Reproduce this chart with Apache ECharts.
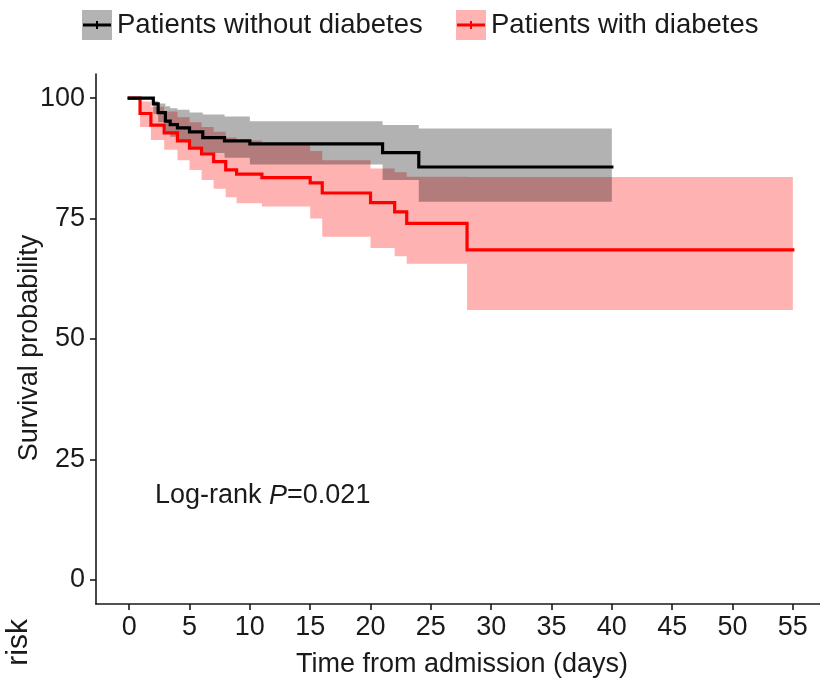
<!DOCTYPE html>
<html>
<head>
<meta charset="utf-8">
<script src="https://cdn.jsdelivr.net/npm/echarts@6/dist/echarts.min.js"></script>
<style>
  html, body { margin: 0; padding: 0; background: #fff; }
  #chart { width: 820px; height: 680px; }
</style>
</head>
<body>
<div id="chart"></div>
<script>
// Kaplan-Meier estimates (%) with 95% confidence band, by diabetes status
const timesNoDiabetes = [0, 2.0, 2.4, 3.0, 3.4, 4.0, 5.0, 6.1, 7.9, 10, 21, 24, 40];
const survNoDiabetes  = [100, 98.8, 97.0, 95.2, 94.5, 93.8, 93.0, 91.8, 91.1, 90.5, 88.7, 85.7, 85.7];
const upperNoDiabetes = [100, 99.4, 98.9, 98.3, 97.9, 97.6, 97.0, 96.6, 96.2, 95.2, 94.4, 93.7, 93.7];
const lowerNoDiabetes = [100, 96.7, 95.0, 92.8, 92.0, 91.0, 89.9, 88.6, 87.6, 86.2, 83.0, 78.5, 78.5];

const timesDiabetes = [0, 0.9, 1.8, 2.9, 4.0, 5.0, 6.0, 7.0, 8.0, 8.9, 11, 15, 16, 20, 22, 23, 28, 55];
const survDiabetes  = [100, 96.8, 94.4, 92.8, 91.1, 89.6, 88.4, 86.8, 85.1, 84.2, 83.5, 82.4, 80.3, 78.3, 76.4, 74.0, 68.5, 68.5];
const upperDiabetes = [100, 99.3, 98.2, 97.2, 96.0, 95.0, 94.0, 93.0, 91.8, 91.2, 90.3, 89.0, 87.1, 85.4, 84.6, 83.7, 83.6, 83.6];
const lowerDiabetes = [100, 94.0, 91.3, 89.3, 87.1, 85.1, 83.0, 81.2, 79.4, 78.2, 77.5, 75.0, 71.2, 68.9, 67.2, 65.6, 56.0, 56.0];

const xTicks = [0, 5, 10, 15, 20, 25, 30, 35, 40, 45, 50, 55];
const yTicks = [0, 25, 50, 75, 100];

const groupNames = ['Patients without diabetes', 'Patients with diabetes'];
const pValueText = '0.021';

const FONT = 'Liberation Sans, Arial, sans-serif';
const INK = '#1a1a1a';

function pairs(xs, ys) {
  return xs.map((x, i) => [x, ys[i]]);
}

// confidence ribbon: one step-shaped polygon (upper edge forward, lower edge back)
function band(name, xs, lo, hi, fill, z) {
  return {
    name: name, type: 'custom', silent: true, z: z, clip: true,
    data: pairs(xs, hi),
    encode: { x: 0, y: 1 },
    renderItem: function (params, api) {
      if (params.dataIndex !== 0) return null;
      const pts = [];
      for (let i = 0; i < xs.length; i++) {
        const next = i < xs.length - 1 ? xs[i + 1] : xs[i];
        pts.push(api.coord([xs[i], hi[i]]));
        pts.push(api.coord([next, hi[i]]));
      }
      for (let i = xs.length - 1; i >= 0; i--) {
        const next = i < xs.length - 1 ? xs[i + 1] : xs[i];
        pts.push(api.coord([next, lo[i]]));
        pts.push(api.coord([xs[i], lo[i]]));
      }
      return { type: 'polygon', shape: { points: pts }, style: { fill: fill, stroke: null } };
    }
  };
}

function curve(name, xs, ys, color, z) {
  return {
    name: name, type: 'line', step: 'end', data: pairs(xs, ys),
    symbol: 'none', z: z, silent: true,
    lineStyle: { color: color, width: 3.2, cap: 'square', join: 'miter' }
  };
}

const axisStyle = { color: INK, width: 1.6 };

const option = {
  animation: false,
  backgroundColor: '#ffffff',
  grid: { left: 96, top: 74, right: 0, bottom: 76, containLabel: false, outerBoundsMode: 'none' },
  xAxis: {
    // axis runs off the right edge of the canvas; 12.07 px per day
    type: 'value', min: -2.75, max: 57.25,
    name: 'Time from admission (days)', nameLocation: 'middle', nameGap: 47,
    nameTextStyle: { fontFamily: FONT, fontSize: 27, color: INK, padding: [0, 0, 0, 8] },
    axisLine: { show: true, onZero: false, lineStyle: axisStyle },
    axisTick: { show: true, length: 6, customValues: xTicks, lineStyle: axisStyle },
    axisLabel: { customValues: xTicks, fontFamily: FONT, fontSize: 27, color: INK, margin: 10 },
    splitLine: { show: false }
  },
  yAxis: {
    type: 'value', min: -5, max: 105,
    axisLine: { show: true, onZero: false, lineStyle: axisStyle },
    axisTick: { show: true, length: 6, customValues: yTicks, lineStyle: axisStyle },
    axisLabel: { customValues: yTicks, fontFamily: FONT, fontSize: 27, color: INK, margin: 11 },
    splitLine: { show: false }
  },
  series: [
    band('diabetes band', timesDiabetes, lowerDiabetes, upperDiabetes, 'rgba(255,0,0,0.3)', 1),
    band('no diabetes band', timesNoDiabetes, lowerNoDiabetes, upperNoDiabetes, 'rgba(0,0,0,0.3)', 2),
    curve(groupNames[1], timesDiabetes, survDiabetes, '#ff0000', 3),
    curve(groupNames[0], timesNoDiabetes, survNoDiabetes, '#000000', 4)
  ],
  graphic: [
    // y-axis title
    {
      type: 'text', x: 30, y: 348, rotation: Math.PI / 2,
      style: { text: 'Survival probability', font: '27px ' + FONT, fill: INK, align: 'center', verticalAlign: 'middle' }
    },
    // legend keys
    { type: 'rect', shape: { x: 82, y: 10, width: 30, height: 30 }, style: { fill: '#b3b3b3' } },
    { type: 'line', shape: { x1: 83, y1: 25, x2: 111, y2: 25 }, style: { stroke: '#000', lineWidth: 3 } },
    { type: 'line', shape: { x1: 97, y1: 21, x2: 97, y2: 29 }, style: { stroke: '#000', lineWidth: 2 } },
    { type: 'text', x: 117, y: 25, style: { text: groupNames[0], font: '27.5px ' + FONT, fill: INK, verticalAlign: 'middle', align: 'left' } },
    { type: 'rect', shape: { x: 456, y: 10, width: 30, height: 30 }, style: { fill: '#ffb3b3' } },
    { type: 'line', shape: { x1: 457, y1: 25, x2: 485, y2: 25 }, style: { stroke: '#ff0000', lineWidth: 3 } },
    { type: 'line', shape: { x1: 471, y1: 21, x2: 471, y2: 29 }, style: { stroke: '#ff0000', lineWidth: 2 } },
    { type: 'text', x: 491, y: 25, style: { text: groupNames[1], font: '27.5px ' + FONT, fill: INK, verticalAlign: 'middle', align: 'left' } },
    // log-rank annotation
    {
      type: 'text', x: 155, y: 496,
      style: {
        text: '{n|Log-rank }{i|P}{n|=' + pValueText + '}',
        verticalAlign: 'middle', align: 'left',
        rich: {
          n: { fontFamily: FONT, fontSize: 27, fill: INK, color: INK },
          i: { fontFamily: FONT, fontSize: 27, fontStyle: 'italic', fill: INK, color: INK }
        }
      }
    },
    // risk table title
    {
      type: 'text', x: 19, y: 619, rotation: Math.PI / 2,
      style: { text: 'risk', font: '30px ' + FONT, fill: INK, align: 'right', verticalAlign: 'middle' }
    }
  ]
};

echarts.init(document.getElementById('chart'), null, { renderer: 'canvas' }).setOption(option);
</script>
</body>
</html>
